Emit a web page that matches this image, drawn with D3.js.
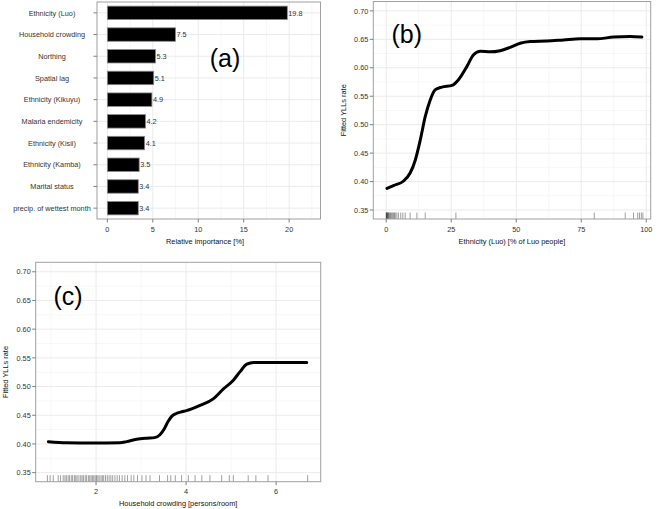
<!DOCTYPE html>
<html><head><meta charset="utf-8">
<script src="https://cdn.jsdelivr.net/npm/d3@7"></script>
<style>
html,body{margin:0;padding:0;background:#fff;}
svg{display:block;font-family:"Liberation Sans",Arial,sans-serif;}
</style></head><body>
<svg id="c" width="660" height="509"></svg>
<script>
// ---- Data ----
const categories = ["Ethnicity (Luo)","Household crowding","Northing","Spatial lag","Ethnicity (Kikuyu)","Malaria endemicity","Ethnicity (Kisii)","Ethnicity (Kamba)","Marital status","precip. of wettest month"];
const importance = [19.8,7.5,5.3,5.1,4.9,4.2,4.1,3.5,3.4,3.4];
const importanceTicks = [0,5,10,15,20];

const luoX = [0.3,2.8,6.7,9.2,11.2,13.1,15,16.9,18.8,21.4,25.3,27.8,31,33.6,36.2,40,43.8,47.7,51.5,55.4,61.8,68.2,74.6,81,87.4,93.8,98.3];
const luoY = [0.388,0.393,0.401,0.415,0.438,0.473,0.514,0.543,0.561,0.566,0.569,0.579,0.602,0.623,0.629,0.628,0.630,0.636,0.643,0.646,0.647,0.649,0.651,0.651,0.654,0.655,0.654];
const luoRug = [0,0.1,0.2,0.35,0.5,0.7,0.9,1.1,1.4,1.7,2.0,2.4,2.8,3.2,3.5,4.1,4.7,5.6,6.4,7.3,9.2,11.8,15.0,26.8,80,91.9,95.1,96.7,97.4,98.1,98.7];
const luoTicks = [0,25,50,75,100];

const crowdX = [0.94,1.35,1.94,2.53,2.68,2.9,3.13,3.3,3.42,3.52,3.6,3.68,3.78,3.9,4.01,4.31,4.61,4.83,5.05,5.2,5.35,5.5,5.79,6.68];
const crowdY = [0.404,0.402,0.4015,0.402,0.404,0.408,0.410,0.411,0.416,0.427,0.439,0.448,0.453,0.456,0.458,0.467,0.479,0.496,0.511,0.526,0.539,0.542,0.542,0.542];
const crowdRug = [0.92,0.98,1.05,1.16,1.21,1.27,1.31,1.34,1.38,1.41,1.45,1.48,1.52,1.55,1.58,1.62,1.66,1.69,1.72,1.76,1.79,1.83,1.86,1.89,1.92,1.95,1.98,2.01,2.04,2.07,2.11,2.14,2.17,2.21,2.25,2.29,2.33,2.37,2.42,2.47,2.52,2.58,2.64,2.7,2.78,2.84,2.92,3.02,3.11,3.2,3.41,3.59,3.66,3.76,3.9,4.05,4.2,4.35,4.53,4.79,4.96,5.05,5.38,5.55,5.82,6.7];
const crowdTicks = [2,4,6];
const yTicks = [0.35,0.40,0.45,0.50,0.55,0.60,0.65,0.70];

// ---- Style ----
const gridMajor = "#ebebeb", gridMinor = "#f7f7f7", borderCol = "#a0a0a0", tickCol = "#7f7f7f", labCol = "#333";
const FS = 7.3, TS = 7.4;
const svg = d3.select("#c");

function frame(g, x0, y0, x1, y1){
  g.append("rect").attr("x",x0).attr("y",y0).attr("width",x1-x0).attr("height",y1-y0)
   .attr("fill","none").attr("stroke",borderCol).attr("stroke-width",1);
}

// ---- Panel (a) ----
{
  const L=97, R=320.5, T=2, B=219;
  const x = d3.scaleLinear().domain([-1.14,23.45]).range([L,R]);
  const y = d3.scaleBand().domain(categories).range([T,B]).paddingInner(0.38).paddingOuter(0.19);
  const g = svg.append("g");
  [2.5,7.5,12.5,17.5,22.5].forEach(v=>g.append("line").attr("x1",x(v)).attr("x2",x(v)).attr("y1",T).attr("y2",B).attr("stroke",gridMinor));
  importanceTicks.forEach(v=>g.append("line").attr("x1",x(v)).attr("x2",x(v)).attr("y1",T).attr("y2",B).attr("stroke",gridMajor));
  categories.forEach(c=>g.append("line").attr("x1",L).attr("x2",R).attr("y1",y(c)+y.bandwidth()/2).attr("y2",y(c)+y.bandwidth()/2).attr("stroke",gridMajor));
  g.selectAll(".bar").data(categories).enter().append("rect")
    .attr("x",x(0)).attr("y",c=>y(c)).attr("height",y.bandwidth())
    .attr("width",(c,i)=>x(importance[i])-x(0)).attr("fill","#000").attr("stroke","#8a8a8a").attr("stroke-width",0.8);
  g.selectAll(".val").data(categories).enter().append("text")
    .attr("x",(c,i)=>x(importance[i])+1).attr("y",c=>y(c)+y.bandwidth()/2+2.7)
    .attr("font-size",FS).attr("fill",labCol).text((c,i)=>importance[i].toFixed(1));
  frame(g,L,T,R,B);
  categories.forEach(c=>{
    const yy=y(c)+y.bandwidth()/2;
    g.append("line").attr("x1",L-3.5).attr("x2",L).attr("y1",yy).attr("y2",yy).attr("stroke",tickCol);
    g.append("text").attr("x",52).attr("y",yy+2.7).attr("text-anchor","middle").attr("font-size",FS).attr("fill",labCol).text(c);
  });
  importanceTicks.forEach(v=>{
    g.append("line").attr("x1",x(v)).attr("x2",x(v)).attr("y1",B).attr("y2",B+3.5).attr("stroke",tickCol);
    g.append("text").attr("x",x(v)).attr("y",B+12.5).attr("text-anchor","middle").attr("font-size",FS).attr("fill",labCol).text(v);
  });
  g.append("text").attr("x",205).attr("y",244).attr("text-anchor","middle").attr("font-size",TS).attr("fill","#111").text("Relative importance [%]");
  g.append("text").attr("x",225).attr("y",67).attr("text-anchor","middle").attr("font-size",25).text("(a)");
}

function linePanel(opt){
  const {L,R,T,B,xd,yd,xs,ys,rug,xt,title,label,lx,ly,ylabX,titleY} = opt;
  const x = d3.scaleLinear().domain(xd).range([L,R]);
  const y = d3.scaleLinear().domain(yd).range([B,T]);
  const g = svg.append("g");
  const step = xt[1]-xt[0];
  for(let i=0;i<xt.length+1;i++){
    const v = xt[0]-step/2+i*step;
    if(v>xd[0]&&v<xd[1]) g.append("line").attr("x1",x(v)).attr("x2",x(v)).attr("y1",T).attr("y2",B).attr("stroke",gridMinor);
  }
  for(let i=0;i<yTicks.length+1;i++){
    const v = 0.325+i*0.05;
    if(v>yd[0]&&v<yd[1]) g.append("line").attr("x1",L).attr("x2",R).attr("y1",y(v)).attr("y2",y(v)).attr("stroke",gridMinor);
  }
  xt.forEach(v=>g.append("line").attr("x1",x(v)).attr("x2",x(v)).attr("y1",T).attr("y2",B).attr("stroke",gridMajor));
  yTicks.forEach(v=>g.append("line").attr("x1",L).attr("x2",R).attr("y1",y(v)).attr("y2",y(v)).attr("stroke",gridMajor));
  g.selectAll(".rug").data(rug).enter().append("line")
    .attr("x1",d=>x(d)).attr("x2",d=>x(d)).attr("y1",B-6.5).attr("y2",B)
    .attr("stroke","#000").attr("stroke-opacity",0.55).attr("stroke-width",0.7);
  const pts = xs.map((v,i)=>[v,ys[i]]);
  g.append("path").datum(pts).attr("fill","none").attr("stroke","#000").attr("stroke-width",3)
    .attr("stroke-linecap","round").attr("stroke-linejoin","round")
    .attr("d",d3.line().x(d=>x(d[0])).y(d=>y(d[1])).curve(d3.curveMonotoneX));
  frame(g,L,T,R,B);
  yTicks.forEach(v=>{
    g.append("line").attr("x1",L-3.5).attr("x2",L).attr("y1",y(v)).attr("y2",y(v)).attr("stroke",tickCol);
    g.append("text").attr("x",L-5).attr("y",y(v)+2.7).attr("text-anchor","end").attr("font-size",FS).attr("fill",labCol).text(v.toFixed(2));
  });
  xt.forEach(v=>{
    g.append("line").attr("x1",x(v)).attr("x2",x(v)).attr("y1",B).attr("y2",B+3.5).attr("stroke",tickCol);
    g.append("text").attr("x",x(v)).attr("y",B+12.5).attr("text-anchor","middle").attr("font-size",FS).attr("fill",labCol).text(v);
  });
  g.append("text").attr("x",(L+R)/2).attr("y",titleY).attr("text-anchor","middle").attr("font-size",TS).attr("fill","#111").text(title);
  g.append("text").attr("transform",`translate(${ylabX},${(T+B)/2}) rotate(-90)`).attr("text-anchor","middle").attr("font-size",TS).attr("fill","#111").text("Fitted YLLs rate");
  g.append("text").attr("x",lx).attr("y",ly).attr("text-anchor","middle").attr("font-size",25).text(label);
}

linePanel({L:373.3,R:650.7,T:1.5,B:219,xd:[-4.96,101.7],yd:[0.3342,0.7165],xs:luoX,ys:luoY,rug:luoRug,xt:luoTicks,
  title:"Ethnicity (Luo) [% of Luo people]",label:"(b)",lx:406.7,ly:43,ylabX:345.5,titleY:244});
linePanel({L:35.7,R:320.7,T:262.3,B:481.7,xd:[0.66,6.99],yd:[0.3342,0.7165],xs:crowdX,ys:crowdY,rug:crowdRug,xt:crowdTicks,
  title:"Household crowding [persons/room]",label:"(c)",lx:68,ly:305,ylabX:7.5,titleY:506});
</script>
</body></html>
